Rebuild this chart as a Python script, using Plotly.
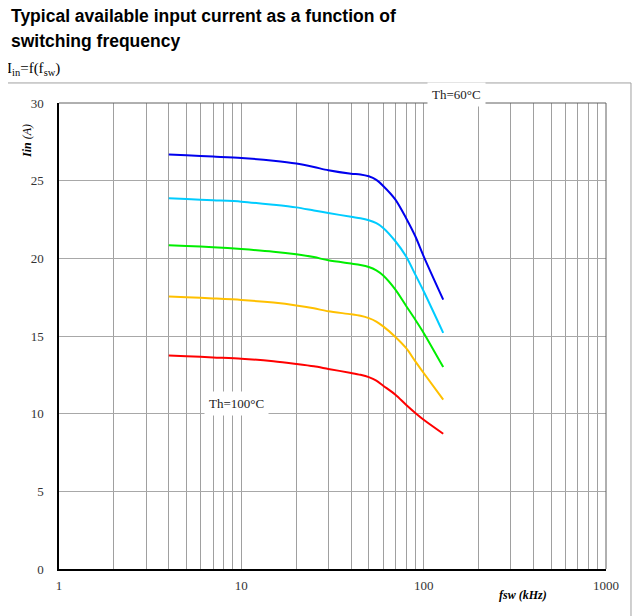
import plotly.graph_objects as go

# Data
freq_khz = [4, 5, 7, 10, 15, 20, 25, 30, 40, 45, 50, 55, 60, 70, 80, 90, 100, 128]
iin_a = [26.68, 26.63, 26.55, 26.46, 26.28, 26.10, 25.88, 25.67, 25.45, 25.40, 25.28, 25.05, 24.66, 23.78, 22.60, 21.42, 20.13, 17.34]
iin_b = [23.86, 23.82, 23.74, 23.65, 23.45, 23.28, 23.08, 22.92, 22.67, 22.58, 22.45, 22.26, 21.96, 21.10, 20.13, 18.95, 17.88, 15.20]
iin_c = [20.84, 20.80, 20.72, 20.60, 20.43, 20.26, 20.08, 19.87, 19.66, 19.57, 19.44, 19.22, 18.89, 17.98, 16.95, 16.05, 15.20, 13.00]
iin_d = [17.55, 17.50, 17.42, 17.32, 17.15, 16.97, 16.78, 16.59, 16.40, 16.30, 16.15, 15.93, 15.62, 14.94, 14.23, 13.37, 12.62, 10.90]
iin_e = [13.75, 13.70, 13.62, 13.54, 13.37, 13.20, 13.05, 12.88, 12.62, 12.50, 12.35, 12.13, 11.80, 11.22, 10.58, 10.05, 9.61, 8.71]
series = [iin_a, iin_b, iin_c, iin_d, iin_e]
colors = ["#0000EE", "#00CCFF", "#00EE00", "#FFC000", "#FF0000"]

x_tickvals = [1, 2, 3, 4, 5, 6, 7, 8, 9, 10, 20, 30, 40, 50, 60, 70, 80, 90,
              100, 200, 300, 400, 500, 600, 700, 800, 900, 1000]
x_ticktext = ["1"] + [""] * 8 + ["10"] + [""] * 8 + ["100"] + [""] * 8 + ["1000"]
y_tickvals = [0, 5, 10, 15, 20, 25, 30]
y_ticktext = ["0", "5", "10", "15", "20", "25", "30"]

serif = "Liberation Serif, Times New Roman, serif"
sans = "Liberation Sans, Arial, sans-serif"

fig = go.Figure()
for ys, c in zip(series, colors):
    fig.add_trace(go.Scatter(x=freq_khz, y=ys, mode="lines",
                             line=dict(color=c, width=2, shape="spline", smoothing=0.8),
                             showlegend=False, hoverinfo="skip"))

fig.update_layout(
    width=635, height=608,
    margin=dict(l=51, r=37, t=95, b=47),
    paper_bgcolor="white", plot_bgcolor="white",
    xaxis=dict(type="log", range=[0, 3], tickvals=x_tickvals, ticktext=x_ticktext,
               showgrid=True, gridcolor="#A0A0A0", gridwidth=1,
               showline=True, linecolor="black", linewidth=1.5,
               ticks="", ticklabelstandoff=4, zeroline=False,
               tickfont=dict(family=serif, size=13, color="#333")),
    yaxis=dict(range=[0, 30], tickvals=y_tickvals, ticktext=y_ticktext,
               showgrid=True, gridcolor="#A8A8A8", gridwidth=1,
               showline=True, linecolor="black", linewidth=1.5,
               ticks="", ticklabelstandoff=11, zeroline=False,
               tickfont=dict(family=serif, size=13, color="#333")),
)

# outer frame and plot borders
fig.add_shape(type="rect", xref="paper", yref="paper", x0=-0.095, x1=1.0457, y0=-0.12, y1=1.043,
              line=dict(color="#A0A0A0", width=1), layer="below")
fig.add_shape(type="line", xref="paper", yref="paper", x0=0, x1=1, y0=1, y1=1,
              line=dict(color="#606060", width=1))
fig.add_shape(type="line", xref="paper", yref="paper", x0=1, x1=1, y0=0, y1=1,
              line=dict(color="#606060", width=1))

# titles
fig.add_annotation(xref="paper", yref="paper", x=-0.0896, y=1.187, xanchor="left", yanchor="middle",
                   text="<b>Typical available input current as a function of</b>", showarrow=False,
                   borderpad=0, font=dict(family=sans, size=17.5, color="black"))
fig.add_annotation(xref="paper", yref="paper", x=-0.0896, y=1.1325, xanchor="left", yanchor="middle",
                   text="<b>switching frequency</b>", showarrow=False,
                   borderpad=0, font=dict(family=sans, size=17.5, color="black"))
fig.add_annotation(xref="paper", yref="paper", x=-0.097, y=1.072, xanchor="left", yanchor="middle",
                   text="I<sub>in</sub>=f(f<sub>sw</sub>)", showarrow=False,
                   borderpad=0, font=dict(family=serif, size=15, color="black"))

# axis titles
fig.add_annotation(xref="paper", yref="paper", x=-0.0585, y=0.9185, xanchor="center", yanchor="middle",
                   text="<b><i>Iin</i></b><i> (A)</i>", textangle=-90, showarrow=False,
                   font=dict(family=serif, size=12, color="black"))
fig.add_annotation(xref="paper", yref="paper", x=0.848, y=-0.055, xanchor="center", yanchor="middle",
                   text="<b><i>fsw (kHz)</i></b>", showarrow=False,
                   font=dict(family=serif, size=12, color="black"))

# curve labels
fig.add_annotation(xref="paper", yref="paper", x=0.726, y=1.018, xanchor="center", yanchor="middle",
                   text="Th=60°C", showarrow=False, bgcolor="white", borderpad=4,
                   font=dict(family=serif, size=13, color="#222"))
fig.add_annotation(xref="paper", yref="paper", x=0.324, y=0.356, xanchor="center", yanchor="middle",
                   text="Th=100°C", showarrow=False, bgcolor="white", borderpad=4,
                   font=dict(family=serif, size=13, color="#222"))

fig.write_html("out.html")
